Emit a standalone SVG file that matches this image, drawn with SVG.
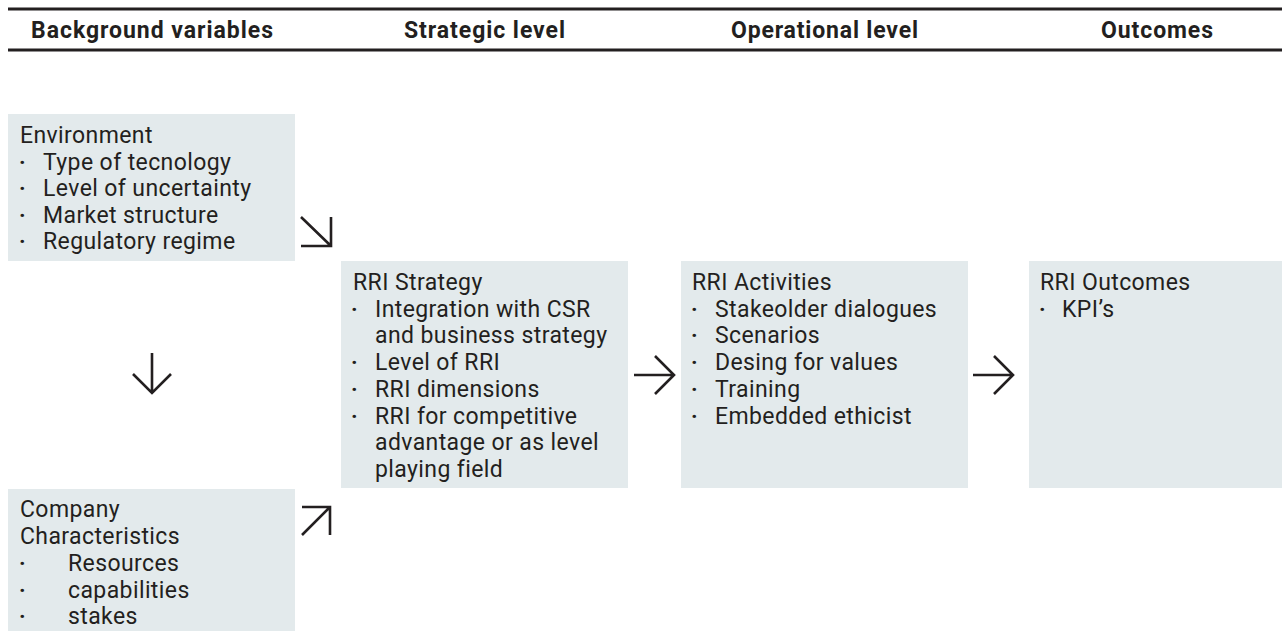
<svg xmlns="http://www.w3.org/2000/svg" width="1282" height="631" viewBox="0 0 1282 631">
<style>
.bg{fill:#ffffff}
.box{fill:#e3eaec}
.hd{font-family:Roboto,"Liberation Sans",sans-serif;font-weight:700;font-size:23px;fill:#231f20;text-anchor:middle}
.t{font-family:Roboto,"Liberation Sans",sans-serif;font-size:23px;fill:#231f20;letter-spacing:0.4px}
.b{font-family:Roboto,"Liberation Sans",sans-serif;font-size:22px;font-weight:700;fill:#231f20}
.rule{stroke:#231f20;stroke-width:3;fill:none}
.arr{stroke:#231f20;stroke-width:2.6;fill:none;stroke-linecap:butt;stroke-linejoin:miter}
</style>
<rect class="bg" x="0" y="0" width="1282" height="631"/>
<g id="header">
<line class="rule" x1="8" y1="9" x2="1282" y2="9"/>
<line class="rule" x1="8" y1="50" x2="1282" y2="50"/>
<text class="hd" x="152" y="38" textLength="242" lengthAdjust="spacing">Background variables</text>
<text class="hd" x="484.5" y="38" textLength="161" lengthAdjust="spacing">Strategic level</text>
<text class="hd" x="824.5" y="38" textLength="187" lengthAdjust="spacing">Operational level</text>
<text class="hd" x="1157" y="38" textLength="112" lengthAdjust="spacing">Outcomes</text>
</g>
<g id="environment">
<rect class="box" x="8" y="114" width="287" height="147"/>
<text class="t" x="20" y="143">Environment</text>
<text class="b" x="19" y="169.5">·</text><text class="t" x="43" y="169.5">Type of tecnology</text>
<text class="b" x="19" y="196">·</text><text class="t" x="43" y="196">Level of uncertainty</text>
<text class="b" x="19" y="222.5">·</text><text class="t" x="43" y="222.5">Market structure</text>
<text class="b" x="19" y="249">·</text><text class="t" x="43" y="249">Regulatory regime</text>
</g>
<g id="company">
<rect class="box" x="8" y="489" width="287" height="142"/>
<text class="t" x="20" y="517">Company</text>
<text class="t" x="20" y="544">Characteristics</text>
<text class="b" x="19" y="571">·</text><text class="t" x="68" y="571">Resources</text>
<text class="b" x="19" y="597.5">·</text><text class="t" x="68" y="597.5">capabilities</text>
<text class="b" x="19" y="624">·</text><text class="t" x="68" y="624">stakes</text>
</g>
<g id="strategy">
<rect class="box" x="341" y="261" width="287" height="227"/>
<text class="t" x="353" y="290">RRI Strategy</text>
<text class="b" x="351" y="316.7">·</text><text class="t" x="375" y="316.7">Integration with CSR</text>
<text class="t" x="375" y="343.4">and business strategy</text>
<text class="b" x="351" y="370.1">·</text><text class="t" x="375" y="370.1">Level of RRI</text>
<text class="b" x="351" y="396.8">·</text><text class="t" x="375" y="396.8">RRI dimensions</text>
<text class="b" x="351" y="423.5">·</text><text class="t" x="375" y="423.5">RRI for competitive</text>
<text class="t" x="375" y="450.2">advantage or as level</text>
<text class="t" x="375" y="476.9">playing field</text>
</g>
<g id="activities">
<rect class="box" x="681" y="261" width="287" height="227"/>
<text class="t" x="692" y="290">RRI Activities</text>
<text class="b" x="691" y="316.7">·</text><text class="t" x="715" y="316.7">Stakeolder dialogues</text>
<text class="b" x="691" y="343.4">·</text><text class="t" x="715" y="343.4">Scenarios</text>
<text class="b" x="691" y="370.1">·</text><text class="t" x="715" y="370.1">Desing for values</text>
<text class="b" x="691" y="396.8">·</text><text class="t" x="715" y="396.8">Training</text>
<text class="b" x="691" y="423.5">·</text><text class="t" x="715" y="423.5">Embedded ethicist</text>
</g>
<g id="outcomes">
<rect class="box" x="1029" y="261" width="253" height="227"/>
<text class="t" x="1040" y="290">RRI Outcomes</text>
<text class="b" x="1039" y="316.7">·</text><text class="t" x="1062" y="316.7">KPI’s</text>
</g>
<g id="connectors">
<path class="arr" d="M301,217 L331,246 M331,217 V246 H301"/>
<path class="arr" d="M302,535 L330,507 M302,507 H330 V535"/>
<path class="arr" d="M152,353 V393 M133,374 L152,393 L171,374"/>
<path class="arr" d="M634,375 H674 M655,356 L674,375 L655,394"/>
<path class="arr" d="M973,375 H1013 M994,356 L1013,375 L994,394"/>
</g>
</svg>
